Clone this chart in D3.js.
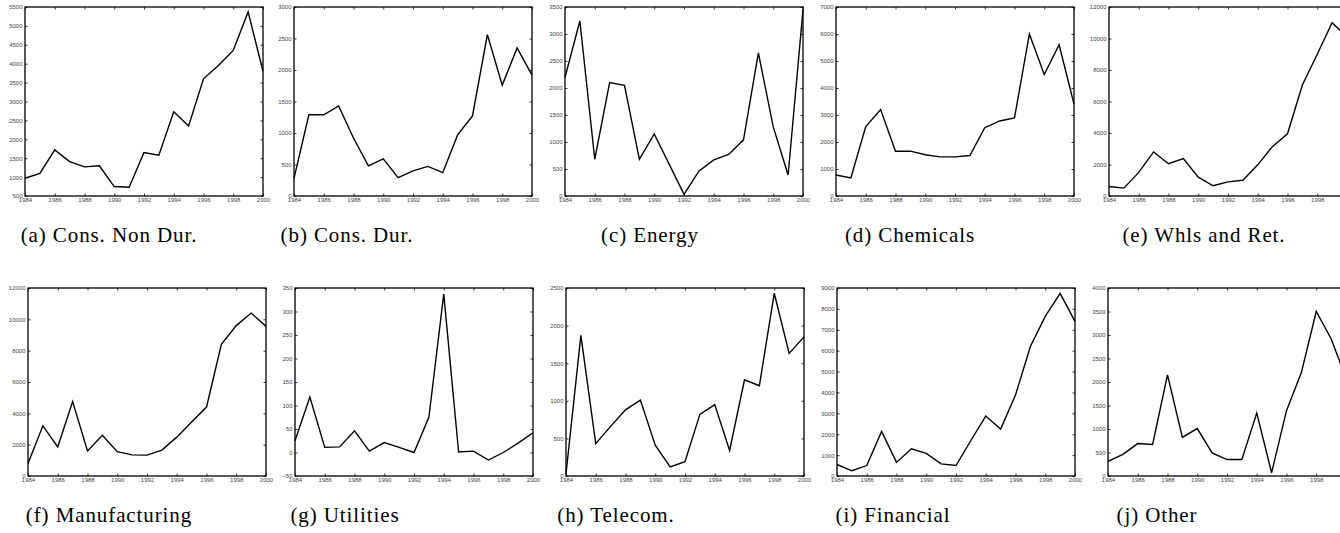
<!DOCTYPE html>
<html>
<head>
<meta charset="utf-8">
<script src="https://cdn.jsdelivr.net/npm/d3@7"></script>
<style>
  html, body { margin: 0; padding: 0; background: #fff; }
  svg { display: block; }
  .tick text { font-family: "Liberation Sans", Arial, sans-serif; font-size: 6px; fill: #444; }
  .caption { font-family: "Liberation Serif", "Times New Roman", serif; font-size: 21px; letter-spacing: 0.9px; fill: #000; }
</style>
</head>
<body>
<svg id="chart" width="1340" height="533"></svg>
<script>
// Yearly sector totals, 1984–2000
const years = d3.range(1984, 2001);

const consNonDur   = [970, 1100, 1720, 1410, 1270, 1300, 750, 730, 1650, 1580, 2730, 2350, 3600, 3950, 4350, 5370, 3800];
const consDur      = [280, 1290, 1290, 1430, 920, 480, 590, 290, 400, 470, 370, 970, 1270, 2560, 1760, 2350, 1920];
const energy       = [2200, 3240, 680, 2100, 2050, 680, 1150, 590, 30, 460, 670, 770, 1040, 2650, 1280, 390, 3450];
const chemicals    = [780, 670, 2570, 3200, 1660, 1660, 1530, 1450, 1450, 1500, 2530, 2780, 2890, 6000, 4500, 5600, 3400];
const whlsRet      = [600, 500, 1500, 2800, 2050, 2380, 1200, 650, 900, 1000, 1980, 3150, 3950, 7050, 9000, 11000, 10100];
const manufacturing= [800, 3200, 1850, 4750, 1600, 2600, 1550, 1350, 1330, 1650, 2480, 3450, 4400, 8400, 9600, 10400, 9550];
const utilities    = [25, 118, 11, 12, 46, 3, 21, 11, 0, 75, 337, 1, 3, -16, 0, 20, 42];
const telecom      = [30, 1870, 430, 660, 880, 1010, 410, 120, 190, 820, 950, 340, 1280, 1200, 2430, 1630, 1850];
const financial    = [550, 250, 500, 2130, 650, 1300, 1080, 580, 500, 1700, 2870, 2250, 3880, 6200, 7640, 8740, 7400];
const other        = [310, 460, 690, 670, 2150, 820, 1010, 490, 350, 350, 1340, 70, 1390, 2200, 3500, 2920, 2080];

const captions = ["(a) Cons. Non Dur.", "(b) Cons. Dur.", "(c) Energy", "(d) Chemicals", "(e) Whls and Ret.",
                  "(f) Manufacturing", "(g) Utilities", "(h) Telecom.", "(i) Financial", "(j) Other"];

const yearTicks = [1984, 1986, 1988, 1990, 1992, 1994, 1996, 1998, 2000];

// y-axis ticks for each panel: [min, max, step]
const yTickSpecs = [
  [500, 5500, 500], [0, 3000, 500], [0, 3500, 500], [0, 7000, 1000], [0, 12000, 2000],
  [0, 12000, 2000], [-50, 350, 50], [0, 2500, 500], [0, 9000, 1000], [0, 4000, 500]
];

const seriesList = [consNonDur, consDur, energy, chemicals, whlsRet,
                    manufacturing, utilities, telecom, financial, other];

// panel frames and caption centres
const W = 1340;
const boxWidth = 238;
const rowFrames = [
  { top: 7,   bottom: 196, lefts: [25, 294, 565, 836, 1109], capY: 242, capX: [109, 347, 650, 910, 1204] },
  { top: 288, bottom: 476, lefts: [28, 295, 566, 837, 1108], capY: 522, capX: [109, 345, 616, 893, 1157] }
];

const svg = d3.select("#chart");
svg.append("rect").attr("width", W).attr("height", 533).attr("fill", "#fff");

const tickLen = 2.5;

seriesList.forEach((values, i) => {
  const row = rowFrames[Math.floor(i / 5)];
  const col = i % 5;
  const left = row.lefts[col], right = left + boxWidth;
  const top = row.top, bottom = row.bottom;
  const [ymin, ymax, ystep] = yTickSpecs[i];

  const x = d3.scaleLinear().domain([1984, 2000]).range([left, right]);
  const y = d3.scaleLinear().domain([ymin, ymax]).range([bottom, top]);
  const yTicks = d3.range(ymin, ymax + ystep / 2, ystep);

  const g = svg.append("g");

  // bottom axis with labels, ticks pointing inward
  const bottomAxis = g.append("g").attr("transform", `translate(0,${bottom})`)
    .call(d3.axisBottom(x).tickValues(yearTicks).tickFormat(d3.format("d"))
      .tickSizeInner(-tickLen).tickSizeOuter(0).tickPadding(1.5));
  // year labels whose centre falls past the page edge are skipped
  bottomAxis.selectAll(".tick text").filter(d => x(d) > W).remove();

  // left axis with labels
  g.append("g").attr("transform", `translate(${left},0)`)
    .call(d3.axisLeft(y).tickValues(yTicks).tickFormat(d3.format("d"))
      .tickSizeInner(-tickLen).tickSizeOuter(0).tickPadding(2.5));
  // mirrored ticks on top and right
  g.append("g").attr("transform", `translate(0,${top})`)
    .call(d3.axisTop(x).tickValues(yearTicks).tickFormat("")
      .tickSizeInner(-tickLen).tickSizeOuter(0));
  g.append("g").attr("transform", `translate(${right},0)`)
    .call(d3.axisRight(y).tickValues(yTicks).tickFormat("")
      .tickSizeInner(-tickLen).tickSizeOuter(0));

  g.selectAll(".domain").remove();
  g.selectAll(".tick line").attr("stroke", "#000").attr("stroke-width", 0.8);

  // frame
  g.append("rect")
    .attr("x", left).attr("y", top)
    .attr("width", right - left).attr("height", bottom - top)
    .attr("fill", "none").attr("stroke", "#000").attr("stroke-width", 1.3);

  // series line
  const line = d3.line().x((d, k) => x(years[k])).y(d => y(d));
  g.append("path")
    .datum(values)
    .attr("d", line)
    .attr("fill", "none")
    .attr("stroke", "#000")
    .attr("stroke-width", 1.4)
    .attr("stroke-linejoin", "miter");

  // caption
  svg.append("text")
    .attr("class", "caption")
    .attr("x", row.capX[col])
    .attr("y", row.capY)
    .attr("text-anchor", "middle")
    .text(captions[i]);
});
</script>
</body>
</html>
